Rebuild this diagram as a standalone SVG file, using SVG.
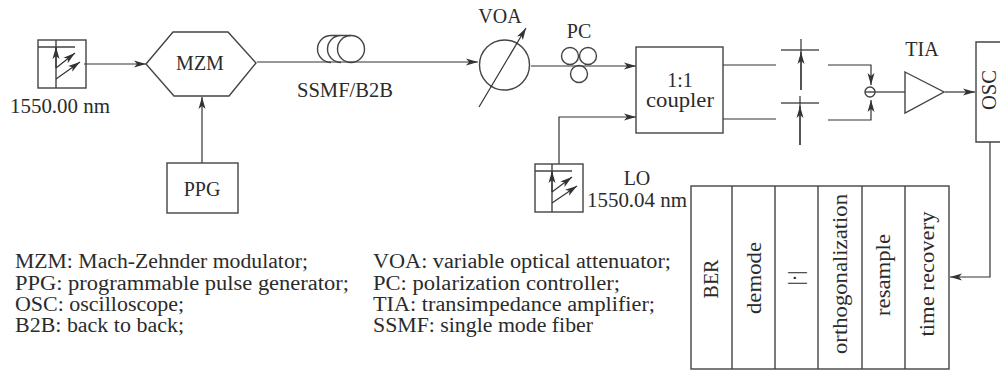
<svg xmlns="http://www.w3.org/2000/svg" width="1000" height="372" viewBox="0 0 1000 372">
<defs>
<marker id="a" markerUnits="userSpaceOnUse" markerWidth="13" markerHeight="8" refX="12" refY="4" orient="auto"><path d="M0 0.5L12 4L0 7.5L3 4Z" fill="#333"/></marker>
</defs>
<style>
text{font-family:"Liberation Serif","Times New Roman",serif;font-size:20px;fill:#2b2b2b}
.m{text-anchor:middle}
.s{fill:none;stroke:#444;stroke-width:1.4}
.l{fill:none;stroke:#333;stroke-width:1.2}
.t{fill:none;stroke:#555;stroke-width:1.4}
</style>
<rect width="1000" height="372" fill="#fff"/>
<g id="connectors" class="l">
<path d="M84 64H146" marker-end="url(#a)"/>
<path d="M202 163V97" marker-end="url(#a)"/>
<path d="M257 62H478" marker-end="url(#a)"/>
<path d="M531 66H636" marker-end="url(#a)"/>
<path d="M559 164V117H636" marker-end="url(#a)"/>
<path d="M723 65H776"/>
<path d="M723 119H776"/>
<path d="M828 65H871V85" marker-end="url(#a)"/>
<path d="M828 120H871V100" marker-end="url(#a)"/>
<path d="M876 92H905"/>
<path d="M945 92H975" marker-end="url(#a)"/>
<path d="M990 142V277H950" marker-end="url(#a)"/>
</g>
<g id="laser1">
<rect class="s" x="38" y="40" width="48" height="48"/>
<path class="s" d="M38 47H75M56 40V88"/>
<path class="l" d="M56 68V47" marker-end="url(#a)"/>
<path class="l" d="M56 68L75 53" marker-end="url(#a)"/>
<path class="l" d="M56 79L80 62" marker-end="url(#a)"/>
<text x="10" y="113" textLength="100" lengthAdjust="spacingAndGlyphs">1550.00 nm</text>
</g>
<g id="mzm">
<path class="s" d="M146 64L173 32H228L256 63L229 96H174Z"/>
<text class="m" x="200" y="70">MZM</text>
</g>
<g id="ppg">
<rect class="s" x="167" y="163" width="71" height="50"/>
<text class="m" x="202" y="196">PPG</text>
</g>
<g id="ssmf">
<path class="s" d="M331 62.500A13.500 13.500 0 0 1 331 35.500H351M341 62.500A13.500 13.500 0 0 1 341 35.500"/>
<circle class="s" cx="351" cy="49" r="13.500"/>
<text x="297" y="97" textLength="96" lengthAdjust="spacingAndGlyphs">SSMF/B2B</text>
</g>
<g id="voa">
<circle class="s" cx="504.500" cy="65" r="25"/>
<path class="l" d="M479 107L526 28" marker-end="url(#a)"/>
<text class="m" x="500" y="23">VOA</text>
</g>
<g id="pc">
<circle class="s" cx="570" cy="56" r="8.500"/><circle class="s" cx="588" cy="56" r="8.500"/><circle class="s" cx="579" cy="74" r="8.500"/>
<text class="m" x="579" y="38">PC</text>
</g>
<g id="coupler">
<rect class="s" x="636" y="47" width="87" height="86"/>
<text class="m" x="680" y="87">1:1</text>
<text class="m" x="680" y="107" textLength="68" lengthAdjust="spacingAndGlyphs">coupler</text>
</g>
<g id="laser2">
<rect class="s" x="535" y="164" width="48" height="48"/>
<path class="s" d="M535 171H572M552 164V212"/>
<path class="l" d="M552 192V171" marker-end="url(#a)"/>
<path class="l" d="M552 192L572 177" marker-end="url(#a)"/>
<path class="l" d="M552 203L577 186" marker-end="url(#a)"/>
<text class="m" x="637" y="185">LO</text>
<text x="587" y="207" textLength="100" lengthAdjust="spacingAndGlyphs">1550.04 nm</text>
</g>
<g id="bs1">
<path class="t" d="M781 50H819"/>
<path class="l" d="M801 90V39"/>
<path class="l" d="M801 90V52" marker-end="url(#a)"/>
</g>
<g id="bs2">
<path class="t" d="M781 103H819"/>
<path class="l" d="M800 145V96"/>
<path class="l" d="M800 145V106" marker-end="url(#a)"/>
</g>
<g id="pd"><circle class="s" cx="870" cy="92" r="5"/><path class="s" d="M865 92H876"/></g>
<g id="tia">
<path class="s" d="M905 72L944 92L905 113Z"/>
<text class="m" x="922" y="56">TIA</text>
</g>
<g id="osc">
<path class="s" d="M1000 42H976V142H1000"/>
<text class="m" transform="translate(996 90) rotate(-90)" textLength="40" lengthAdjust="spacingAndGlyphs">OSC</text>
</g>
<g id="dsp">
<rect class="s" x="691" y="186" width="258" height="183"/>
<path class="s" d="M732 186V369M775 186V369M818 186V369M862 186V369M905 186V369"/>
<text class="m" transform="translate(718 279) rotate(-90)">BER</text>
<text class="m" transform="translate(761 278) rotate(-90)" textLength="72" lengthAdjust="spacingAndGlyphs">demode</text>
<text class="m" transform="translate(802 278) rotate(-90)">|·|</text>
<text class="m" transform="translate(847 274) rotate(-90)" textLength="160" lengthAdjust="spacingAndGlyphs">orthogonalization</text>
<text class="m" transform="translate(890 275) rotate(-90)" textLength="82" lengthAdjust="spacingAndGlyphs">resample</text>
<text class="m" transform="translate(934 274) rotate(-90)" textLength="125" lengthAdjust="spacingAndGlyphs">time recovery</text>
</g>
<g id="legend">
<text x="15" y="268" textLength="293" lengthAdjust="spacingAndGlyphs">MZM: Mach-Zehnder modulator;</text>
<text x="15" y="290" textLength="334" lengthAdjust="spacingAndGlyphs">PPG: programmable pulse generator;</text>
<text x="15" y="311" textLength="169" lengthAdjust="spacingAndGlyphs">OSC: oscilloscope;</text>
<text x="15" y="332" textLength="169" lengthAdjust="spacingAndGlyphs">B2B: back to back;</text>
<text x="373" y="268" textLength="298" lengthAdjust="spacingAndGlyphs">VOA: variable optical attenuator;</text>
<text x="373" y="290" textLength="247" lengthAdjust="spacingAndGlyphs">PC: polarization controller;</text>
<text x="373" y="311" textLength="282" lengthAdjust="spacingAndGlyphs">TIA: transimpedance amplifier;</text>
<text x="373" y="332" textLength="220" lengthAdjust="spacingAndGlyphs">SSMF: single mode fiber</text>
</g>
</svg>
